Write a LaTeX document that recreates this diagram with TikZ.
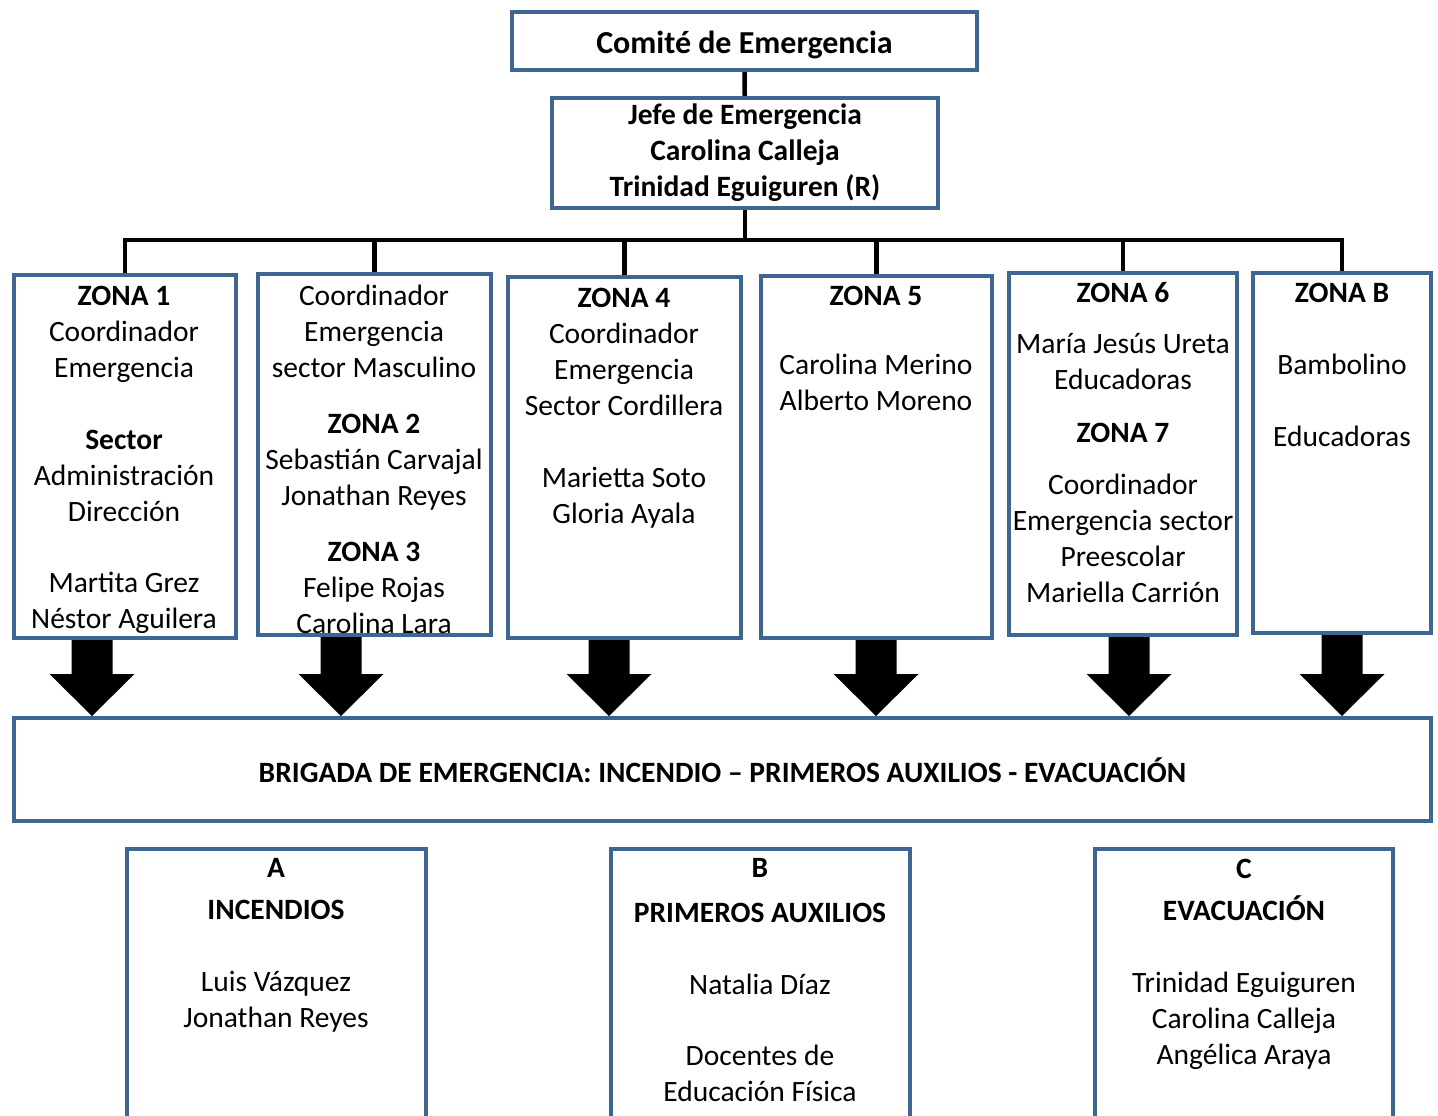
\documentclass[tikz,border=0pt]{standalone}
\usepackage{fontspec}
\setmainfont{Carlito}
\usetikzlibrary{calc}
\definecolor{boxblue}{HTML}{3F6592}
\tikzset{
	org box/.style={
		draw=boxblue,
		line width=4pt,
		align=center,
		inner sep=0pt
	},
	box text/.style={% coordinate is the first baseline
		align=center,
		inner sep=0pt,
		anchor=north,
		yshift=19.5pt,
		execute at begin node=\strut
	},
	org link/.style={
		line width=4.5pt
	}
}
\begin{document}
\begin{tikzpicture}[x=1pt,y=-1pt,font=\fontsize{29.5}{36}\selectfont]
	\clip (0,0) rectangle (1438,1116);
	% top of the chart
	\node[org box,minimum width=465,minimum height=58,font=\fontsize{32}{38}\selectfont] (comite) at (744.5,41) {\raisebox{-13pt}[0pt][0pt]{\textbf{Comité de Emergencia}}};
	\node[org box,minimum width=386,minimum height=110] (jefe) at (745,153) {\textbf{Jefe de Emergencia}\\\textbf{Carolina Calleja}\\\textbf{Trinidad Eguiguren (R)}};
	% zones
	\node[org box,minimum width=222,minimum height=363] (z1) at (125,456.5) {};
	\node[org box,minimum width=233,minimum height=361] (z2) at (374.5,454.5) {};
	\node[org box,minimum width=233,minimum height=361] (z4) at (624.5,457.5) {};
	\node[org box,minimum width=231,minimum height=362] (z5) at (876.5,457) {};
	\node[org box,minimum width=228,minimum height=362] (z6) at (1123,454) {};
	\node[org box,minimum width=178,minimum height=360] (zb) at (1342,453) {};
	\node[box text] (z1t) at (124,305) {\textbf{ZONA 1}\\Coordinador\\Emergencia\\[36pt]\textbf{Sector}\\Administración\\Dirección\\[35pt]Martita Grez\\Néstor Aguilera};
	\node[box text] (z2t) at (374,304) {Coordinador\\Emergencia\\sector Masculino\\[20pt]\textbf{ZONA 2}\\Sebastián Carvajal\\Jonathan Reyes\\[20pt]\textbf{ZONA 3}\\Felipe Rojas\\Carolina Lara};
	\node[box text] (z4t) at (624,307) {\textbf{ZONA 4}\\Coordinador\\Emergencia\\Sector Cordillera\\[36pt]Marietta Soto\\Gloria Ayala};
	\node[box text] (z5t) at (876,305) {\textbf{ZONA 5}\\[33pt]Carolina Merino\\Alberto Moreno};
	\node[box text] (z6t) at (1123,302) {\textbf{ZONA 6}\\[15pt]María Jesús Ureta\\Educadoras\\[17pt]\textbf{ZONA 7}\\[16pt]Coordinador\\Emergencia sector\\Preescolar\\Mariella Carrión};
	\node[box text] (zbt) at (1342,302) {\textbf{ZONA B}\\[36pt]Bambolino\\[36pt]Educadoras};
	% brigade
	\node[org box,minimum width=1417,minimum height=103] (brig) at (722.5,769.5) {\raisebox{-13pt}[0pt][0pt]{\textbf{BRIGADA DE EMERGENCIA: INCENDIO -- PRIMEROS AUXILIOS - EVACUACIÓN}}};
	\node[org box,minimum width=299,minimum height=291] (ba) at (276.5,994.5) {};
	\node[org box,minimum width=299,minimum height=291] (bb) at (760.5,994.5) {};
	\node[org box,minimum width=298,minimum height=291] (bc) at (1244,994.5) {};
	\node[box text] (bat) at (276,878) {\textbf{A}\\[6pt]\textbf{INCENDIOS}\\[36pt]Luis Vázquez\\Jonathan Reyes};
	\node[box text] (bbt) at (760,878) {\textbf{B}\\[9pt]\textbf{PRIMEROS AUXILIOS}\\[36pt]Natalia Díaz\\[35pt]Docentes de\\Educación Física};
	\node[box text] (bct) at (1244,878) {\textbf{C}\\[6pt]\textbf{EVACUACIÓN}\\[36pt]Trinidad Eguiguren\\Carolina Calleja\\Angélica Araya};
	% links
	\coordinate (bus) at (0,240);
	\draw[org link] (comite) -- (jefe);
	\draw[org link] (jefe.south) -- (jefe.south |- bus);
	\draw[org link] (z1.north) -- (z1.north |- bus) -- (zb.north |- bus) -- (zb.north);
	\foreach \b in {z2,z4,z5,z6}
		\draw[org link] (\b.north) -- (\b.north |- bus);
	% fat arrows down to the brigade
	\foreach \b/\x in {z1/92,z2/341,z4/609,z5/876,z6/1129,zb/1342} {
		\coordinate (ax) at (\x,0);
		\fill ($(\b.south -| ax)+(-20.5,0)$) -- ($(\b.south -| ax)+(20.5,0)$)
			-- ($(brig.north -| ax)+(20.5,-42)$) -- ($(brig.north -| ax)+(42.5,-42)$)
			-- (brig.north -| ax) -- ($(brig.north -| ax)+(-42.5,-42)$)
			-- ($(brig.north -| ax)+(-20.5,-42)$) -- cycle;
	}
\end{tikzpicture}
\end{document}
